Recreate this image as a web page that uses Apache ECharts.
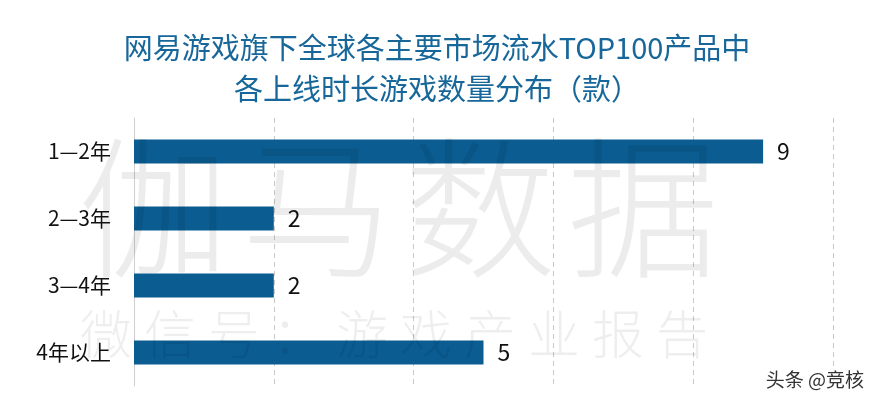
<!DOCTYPE html>
<html>
<head>
<meta charset="utf-8">
<script src="https://cdn.jsdelivr.net/npm/echarts@6/dist/echarts.min.js"></script>
<style>
html,body{margin:0;padding:0;background:#fff;}
#c{width:878px;height:410px;}
</style>
</head>
<body>
<div id="c"></div>
<script>
var titleLines = ['网易游戏旗下全球各主要市场流水TOP100产品中', '各上线时长游戏数量分布（款）'];
var categories = ['1—2年', '2—3年', '3—4年', '4年以上'];
var values = [9, 2, 2, 5];
var xMax = 10.02;
var xInterval = 2;
var watermarkBig = ['伽', '马', '数', '据'];
var watermarkSmall = ['微', '信', '号', '：', '游', '戏', '产', '业', '报', '告'];
var credit = '头条 @竞核';

var chart = echarts.init(document.getElementById('c'));
var font = '"Noto Sans CJK SC", "Noto Sans", sans-serif';
var graphics = [];
watermarkBig.forEach(function (ch, i) {
  graphics.push({
    type: 'text', z: 100, silent: true,
    left: 78 + i * 163, top: 132,
    style: { text: ch, font: '300 152px ' + font, fill: 'rgba(0,0,0,0.075)' }
  });
});
watermarkSmall.forEach(function (ch, i) {
  graphics.push({
    type: 'text', z: 100, silent: true,
    left: 80 + i * 64, top: 308,
    style: { text: ch, font: '300 52px ' + font, fill: 'rgba(0,0,0,0.065)' }
  });
});
graphics.push({
  type: 'text', z: 110, right: 13, top: 369,
  style: { text: credit, font: '19px ' + font, fill: '#333', stroke: '#fff', lineWidth: 2 }
});

chart.setOption({
  backgroundColor: '#fff',
  title: {
    text: titleLines.join('\n'),
    left: 432, top: 22, textAlign: 'center',
    textStyle: { fontFamily: font, fontSize: 29, fontWeight: 'normal', color: '#17679a', lineHeight: 41 }
  },
  grid: { left: 134, right: 43.6, top: 118, bottom: 24, containLabel: false },
  xAxis: {
    type: 'value', min: 0, max: xMax, interval: xInterval,
    axisLine: { show: false }, axisTick: { show: false }, axisLabel: { show: false },
    splitLine: { show: true, showMinLine: true, showMaxLine: false, lineStyle: { type: [5, 4], color: '#c8c8c8', width: 1 } }
  },
  yAxis: {
    type: 'category', data: categories, inverse: true,
    axisLine: { show: true, lineStyle: { color: '#cfcfcf', width: 1 } },
    axisTick: { show: false },
    axisLabel: { margin: 23, fontFamily: font, fontSize: 21, color: '#111' }
  },
  series: [{
    type: 'bar', data: values, barWidth: 24,
    itemStyle: { color: '#0a5c91' },
    label: { show: true, position: 'right', distance: 14, fontFamily: font, fontSize: 23, color: '#111' }
  }],
  graphic: graphics
});
</script>
</body>
</html>
